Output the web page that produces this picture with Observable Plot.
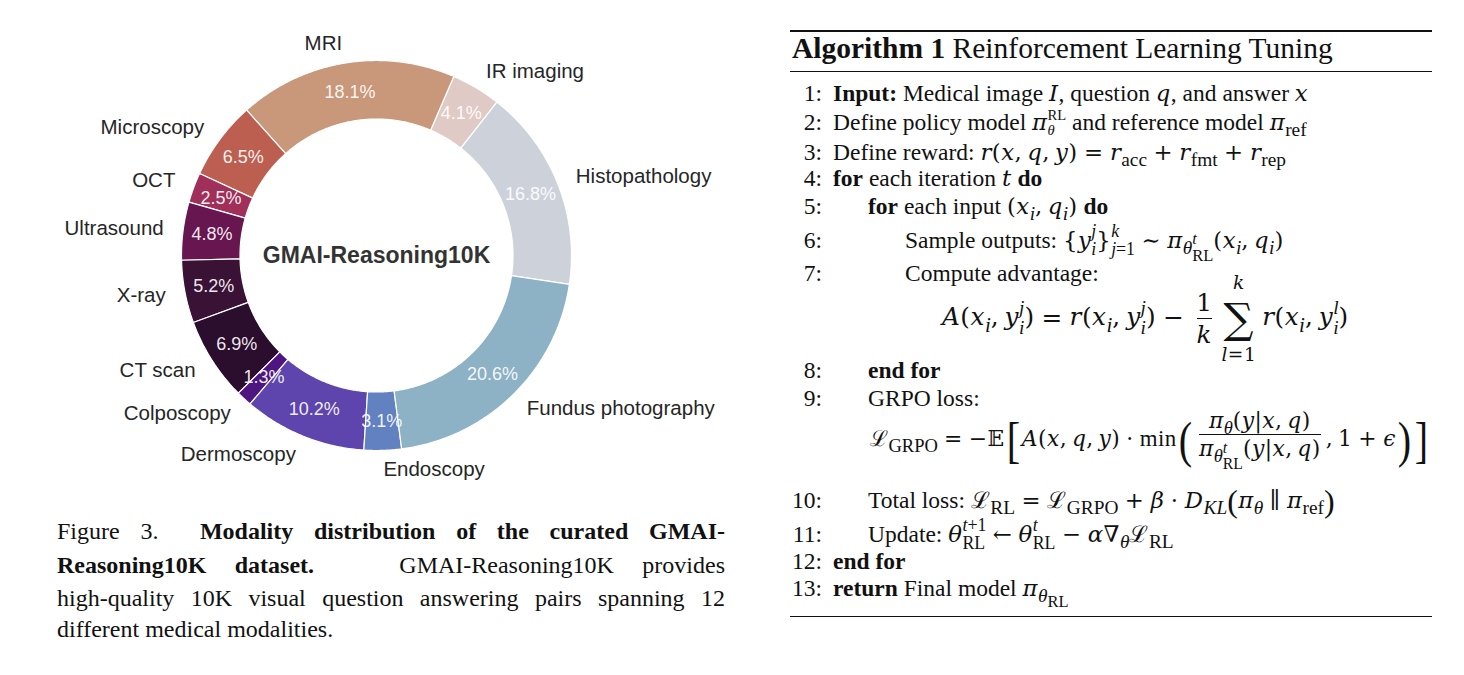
<!DOCTYPE html>
<html><head><meta charset="utf-8">
<script src="https://cdn.jsdelivr.net/npm/d3@7"></script>
<script src="https://cdn.jsdelivr.net/npm/@observablehq/plot@0.6"></script>
<style>
body{margin:0;background:#fff;}
#page{position:relative;width:1464px;height:675px;overflow:hidden;background:#fff;}
#chart{position:absolute;left:0;top:0;}
.cap{position:absolute;left:57px;width:668px;font-family:"Liberation Serif","Times New Roman",serif;font-size:24px;line-height:33px;color:#111;white-space:nowrap;}
.cap.j{text-align:justify;text-align-last:justify;}
.alg{font-family:"Liberation Serif","Times New Roman",serif;color:#111;}
.rule{position:absolute;left:790px;width:642px;background:#111;}
.row{position:absolute;left:0;height:40px;width:1464px;font-size:23.5px;white-space:nowrap;}
.row .num{position:absolute;left:780px;width:42px;text-align:right;top:0;height:40px;line-height:40px;}
.row .tx{position:absolute;top:0;height:40px;line-height:40px;}
.frow{position:absolute;height:96px;display:flex;align-items:center;font-size:23.5px;white-space:nowrap;}
.m{font-family:"DejaVu Serif",serif;font-size:0.97em;letter-spacing:0.02em;}
.m i{font-style:italic;}
.m .rm{font-family:"Liberation Serif",serif;font-size:1.05em;}
sub,sup{font-size:0.7em;line-height:0;}
.m sub,.m sup{font-family:"Liberation Serif",serif;font-size:0.85em;letter-spacing:0;}
sub{vertical-align:-0.32em;}
sup{vertical-align:0.5em;}
.ss{display:inline-flex;flex-direction:column;font-family:"Liberation Serif",serif;font-size:0.78em;line-height:1.02;vertical-align:0.6em;text-align:left;letter-spacing:0;}
.op{margin:0 0.28em;}
.frac{display:inline-flex;flex-direction:column;align-items:center;vertical-align:middle;line-height:1.2;margin:0 5px;}
.frac>span:last-child{border-top:1px solid #111;padding-top:1px;}
.sum{display:inline-flex;flex-direction:column;align-items:center;vertical-align:middle;margin:0 6px 0 4px;}
.sum .sig{font-size:1.7em;line-height:1.17;}
.sum .lim{font-size:0.75em;line-height:1.2;font-family:"DejaVu Serif",serif;}
.big{font-family:"Liberation Serif",serif;font-size:2.3em;line-height:1;vertical-align:middle;font-weight:normal;display:inline-block;transform:scaleX(0.8);}
.mid{font-family:"Liberation Serif",serif;font-size:1.4em;vertical-align:middle;line-height:1;}
</style></head>
<body>
<div id="page">
  <div id="chart"></div>

  <div class="cap j" style="top:515px">Figure 3.&nbsp; <b>Modality distribution of the curated GMAI-</b></div>
  <div class="cap j" style="top:549px"><b>Reasoning10K dataset.</b>&nbsp;&nbsp; GMAI-Reasoning10K provides</div>
  <div class="cap j" style="top:582px">high-quality 10K visual question answering pairs spanning 12</div>
  <div class="cap" style="top:613px">different medical modalities.</div>

  <div class="alg">
    <div class="rule" style="top:30px;height:2px"></div>
    <div class="row" style="top:28px;font-size:29.5px"><span class="tx" style="left:792px"><b>Algorithm 1</b> Reinforcement Learning Tuning</span></div>
    <div class="rule" style="top:71px;height:1px"></div>

    <div class="row" style="top:73px"><span class="num">1:</span><span class="tx" style="left:833px"><b>Input:</b> Medical image <span class="m"><i>I</i></span>, question <span class="m"><i>q</i></span>, and answer <span class="m"><i>x</i></span></span></div>
    <div class="row" style="top:102px"><span class="num">2:</span><span class="tx" style="left:833px">Define policy model <span class="m"><i>π</i><span class="ss" style="font-size:0.64em;vertical-align:0.68em;line-height:1.02"><span>RL</span><span><i>θ</i></span></span></span> and reference model <span class="m"><i>π</i><sub>ref</sub></span></span></div>
    <div class="row" style="top:132px"><span class="num">3:</span><span class="tx" style="left:833px">Define reward: <span class="m"><i>r</i>(<i>x</i>,&thinsp;<i>q</i>,&thinsp;<i>y</i>)<span class="op">=</span><i>r</i><sub>acc</sub><span class="op">+</span><i>r</i><sub>fmt</sub><span class="op">+</span><i>r</i><sub>rep</sub></span></span></div>
    <div class="row" style="top:158px"><span class="num">4:</span><span class="tx" style="left:833px"><b>for</b> each iteration <span class="m"><i>t</i></span> <b>do</b></span></div>
    <div class="row" style="top:186px"><span class="num">5:</span><span class="tx" style="left:868px"><b>for</b> each input <span class="m">(<i>x</i><sub><i>i</i></sub>,&thinsp;<i>q</i><sub><i>i</i></sub>)</span> <b>do</b></span></div>
    <div class="row" style="top:220px"><span class="num">6:</span><span class="tx" style="left:905px">Sample outputs: <span class="m">{<i>y</i><span class="ss"><span><i>j</i></span><span><i>i</i></span></span>}<span class="ss"><span><i>k</i></span><span><i>j</i>=1</span></span><span class="op">∼</span><i>π</i><sub><i>θ</i><span class="ss" style="font-size:0.85em"><span><i>t</i></span><span>RL</span></span></sub>(<i>x</i><sub><i>i</i></sub>,&thinsp;<i>q</i><sub><i>i</i></sub>)</span></span></div>
    <div class="row" style="top:253px"><span class="num">7:</span><span class="tx" style="left:905px">Compute advantage:</span></div>
    <div class="frow" style="left:942px;top:271px;font-size:25.5px"><span class="m"><i>A</i>(<i>x</i><sub><i>i</i></sub>,&thinsp;<i>y</i><span class="ss"><span><i>j</i></span><span><i>i</i></span></span>)<span class="op">=</span><i>r</i>(<i>x</i><sub><i>i</i></sub>,&thinsp;<i>y</i><span class="ss"><span><i>j</i></span><span><i>i</i></span></span>)<span class="op">−</span><span class="frac"><span>1</span><span><i>k</i></span></span><span class="sum"><span class="lim"><i>k</i></span><span class="sig">∑</span><span class="lim"><i>l</i>=1</span></span><i>r</i>(<i>x</i><sub><i>i</i></sub>,&thinsp;<i>y</i><span class="ss"><span><i>l</i></span><span><i>i</i></span></span>)</span></div>
    <div class="row" style="top:350px"><span class="num">8:</span><span class="tx" style="left:868px"><b>end for</b></span></div>
    <div class="row" style="top:378px"><span class="num">9:</span><span class="tx" style="left:868px">GRPO loss:</span></div>
    <div class="frow" style="left:870px;top:392px;font-size:22.5px"><span class="m">ℒ<sub>GRPO</sub><span class="op">=</span>−𝔼<span class="big">[</span><i>A</i>(<i>x</i>,&thinsp;<i>q</i>,&thinsp;<i>y</i>)<span class="op">·</span><span class="rm">min</span><span class="big">(</span><span class="frac"><span><i>π</i><sub><i>θ</i></sub>(<i>y</i>|<i>x</i>,&thinsp;<i>q</i>)</span><span><i>π</i><sub><i>θ</i><span class="ss" style="font-size:0.85em"><span><i>t</i></span><span>RL</span></span></sub>(<i>y</i>|<i>x</i>,&thinsp;<i>q</i>)</span></span>,&thinsp;1<span class="op">+</span><i>ϵ</i><span class="big">)</span><span class="big">]</span></span></div>
    <div class="row" style="top:480px"><span class="num">10:</span><span class="tx" style="left:868px">Total loss: <span class="m">ℒ<sub>RL</sub><span class="op">=</span>ℒ<sub>GRPO</sub><span class="op">+</span><i>β</i><span class="op">·</span><i>D</i><sub><i>KL</i></sub><span class="mid">(</span><i>π</i><sub><i>θ</i></sub><span class="op">∥</span><i>π</i><sub>ref</sub><span class="mid">)</span></span></span></div>
    <div class="row" style="top:514px"><span class="num">11:</span><span class="tx" style="left:868px">Update: <span class="m"><i>θ</i><span class="ss"><span><i>t</i>+1</span><span>RL</span></span><span class="op">←</span><i>θ</i><span class="ss"><span><i>t</i></span><span>RL</span></span><span class="op">−</span><i>α</i>∇<sub><i>θ</i></sub>ℒ<sub>RL</sub></span></span></div>
    <div class="row" style="top:541px"><span class="num">12:</span><span class="tx" style="left:833px"><b>end for</b></span></div>
    <div class="row" style="top:568px"><span class="num">13:</span><span class="tx" style="left:833px"><b>return</b> Final model <span class="m"><i>π</i><sub><i>θ</i><sub>RL</sub></sub></span></span></div>
    <div class="rule" style="top:616px;height:1px"></div>
  </div>
</div>
<script>
// ---- data ----
const modalities = ["Histopathology","IR imaging","MRI","Microscopy","OCT","Ultrasound","X-ray","CT scan","Colposcopy","Dermoscopy","Endoscopy","Fundus photography"];
const shares = [16.8, 4.1, 18.1, 6.5, 2.5, 4.8, 5.2, 6.9, 1.3, 10.2, 3.1, 20.6];
const sliceColors = ["#cdd2da","#dfcac5","#c99779","#bd5f50","#a0305a","#68164f","#3a1236","#2b0d2e","#4d1680","#5e45ad","#6281c0","#8db1c5"];
const centerTitle = "GMAI-Reasoning10K";

// ---- geometry (style) ----
const W = 760, H = 500, cx = 376, cy = 255;
const R = 195, r0 = R * 0.7, labelDist = 1.1, pctDist = 0.85;
const start = -8.5 * Math.PI / 180;

const arcs = d3.pie().sort(null).value(d => d)(shares);
const slicePts = [], labels = [], pcts = [];
arcs.forEach((a, i) => {
  const t0 = start + a.startAngle, t1 = start + a.endAngle;
  const n = Math.max(2, Math.ceil((t1 - t0) / (Math.PI / 360)));
  const pts = [];
  for (let k = 0; k <= n; k++) { const t = t0 + (t1 - t0) * k / n; pts.push([R * Math.cos(t), R * Math.sin(t)]); }
  for (let k = n; k >= 0; k--) { const t = t0 + (t1 - t0) * k / n; pts.push([r0 * Math.cos(t), r0 * Math.sin(t)]); }
  pts.push(pts[0]);
  pts.forEach(([x, y]) => slicePts.push({name: modalities[i], x, y}));
  const m = (t0 + t1) / 2;
  labels.push({name: modalities[i], x: labelDist * R * Math.cos(m), y: labelDist * R * Math.sin(m)});
  pcts.push({t: shares[i].toFixed(1) + "%", x: pctDist * R * Math.cos(m), y: pctDist * R * Math.sin(m)});
});

const chart = Plot.plot({
  width: W, height: H, margin: 0,
  style: {fontFamily: "Liberation Sans, Arial, sans-serif", background: "transparent", overflow: "visible"},
  x: {domain: [-cx, W - cx], axis: null},
  y: {domain: [-(H - cy), cy], axis: null},
  color: {domain: modalities, range: sliceColors},
  marks: [
    Plot.line(slicePts, {x: "x", y: "y", z: "name", fill: "name", stroke: "white", strokeWidth: 1.2, curve: "linear"}),
    Plot.text(labels.filter(d => d.x >= 0), {x: "x", y: "y", text: "name", textAnchor: "start", fontSize: 20.5, fill: "#262626"}),
    Plot.text(labels.filter(d => d.x < 0), {x: "x", y: "y", text: "name", textAnchor: "end", fontSize: 20.5, fill: "#262626"}),
    Plot.text(pcts, {x: "x", y: "y", text: "t", fontSize: 18, fill: "white", fillOpacity: 0.92}),
    Plot.text([centerTitle], {x: () => 0, y: () => 0, text: d => d, fontSize: 23, fontWeight: "bold", fill: "#333"})
  ]
});
document.getElementById("chart").appendChild(chart);
</script>
</body></html>
